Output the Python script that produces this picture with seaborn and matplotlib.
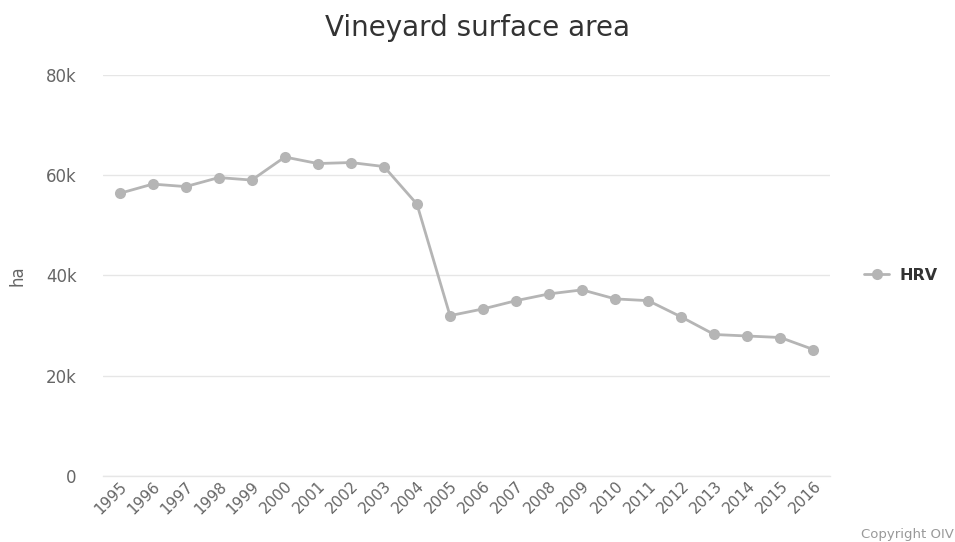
import matplotlib
matplotlib.use("Agg")
import matplotlib.pyplot as plt
import seaborn as sns
import pandas as pd
from matplotlib.ticker import FuncFormatter, MultipleLocator

years = [str(y) for y in range(1995, 2017)]
hrv = [56350, 58200, 57700, 59500, 59000, 63600, 62300, 62500, 61700, 54200,
       31960, 33300, 34950, 36300, 37100, 35300, 34950, 31700, 28200, 27900,
       27600, 25200]

df = pd.DataFrame({"pos": range(len(years)), "value": hrv, "country": "HRV"})

sns.set_theme(style="white")
plt.rcParams['font.family'] = ['DejaVu Sans']

fig = plt.figure(figsize=(9.55, 5.42), dpi=100)
ax = fig.add_axes([0.108, 0.122, 0.761, 0.740])

line_color = "#b5b5b5"
sns.lineplot(data=df, x="pos", y="value", hue="country", palette=[line_color],
             marker="o", markersize=8, markeredgewidth=0, linewidth=2, ax=ax)

ax.set_xlim(-0.5, len(years) - 0.5)
ax.set_ylim(0, 80000)
ax.yaxis.set_major_locator(MultipleLocator(20000))
ax.yaxis.set_major_formatter(FuncFormatter(lambda v, p: "0" if v == 0 else f"{int(v/1000)}k"))
ax.set_xticks(range(len(years)))
ax.set_xticklabels(years, rotation=45, ha="right", rotation_mode="anchor",
                   fontsize=11, color="#666666")
ax.tick_params(axis="y", labelsize=12, labelcolor="#666666", length=0, pad=19)
ax.tick_params(axis="x", length=0, pad=2)
ax.grid(axis="y", color="#e6e6e6", linewidth=1)
ax.set_axisbelow(True)
for s in ["top", "right", "left"]:
    ax.spines[s].set_visible(False)
ax.spines["bottom"].set_color("#e6e6e6")
ax.spines["bottom"].set_linewidth(1)

ax.set_xlabel("")
ax.set_ylabel("ha", fontsize=12, color="#666666", labelpad=14)

fig.suptitle("Vineyard surface area", x=0.5, y=0.948, va="center",
             fontsize=20, color="#333333")

leg = ax.legend(loc="center left", bbox_to_anchor=(1.027, 0.5), frameon=False,
                handlelength=1.6, handletextpad=0.6, fontsize=11.5)
for t in leg.get_texts():
    t.set_fontweight("bold")
    t.set_color("#333333")

fig.text(0.999, 0.002, "Copyright OIV", ha="right", va="bottom", fontsize=9.5,
         color="#999999")

fig.savefig("out.png", dpi=100)
